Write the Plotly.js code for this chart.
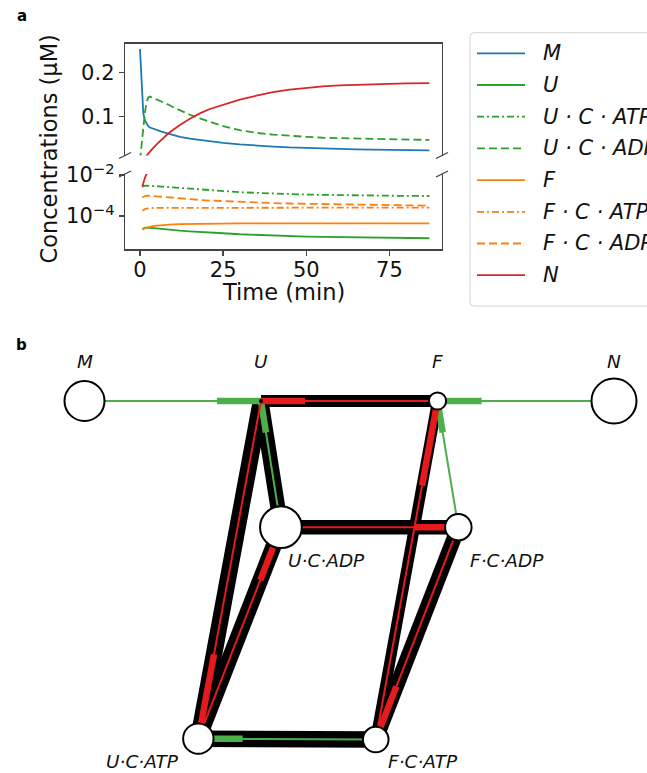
<!DOCTYPE html>
<html><head><meta charset="utf-8">
<script src="https://cdn.plot.ly/plotly-3.0.1.min.js"></script>
<style>html,body{margin:0;padding:0;background:#fff;}#chart{width:647px;height:773px;}</style>
</head><body><div id="chart"></div>
<script>
// ---------------- Panel a data ----------------
const timeMin = [0, 0.35, 0.7, 1, 1.5, 2, 2.5, 3, 4, 5, 6.5, 8.5, 10, 12, 15, 18, 21, 25, 30, 35, 40, 45, 50, 55, 60, 65, 70, 75, 80, 87];
const conc_M = [0.253, 0.19, 0.135, 0.108, 0.091, 0.083, 0.078, 0.075, 0.072, 0.069, 0.066, 0.0615, 0.058, 0.054, 0.050, 0.047, 0.044, 0.0405, 0.037, 0.034, 0.032, 0.030, 0.0285, 0.0275, 0.0265, 0.0255, 0.025, 0.0245, 0.024, 0.0235];
const conc_U = [0, 0, 2.25e-5, 2.5e-5, 2.7e-5, 2.75e-5, 2.75e-5, 2.7e-5, 2.6e-5, 2.5e-5, 2.35e-5, 2.2e-5, 2.1e-5, 1.95e-5, 1.8e-5, 1.65e-5, 1.55e-5, 1.45e-5, 1.3e-5, 1.2e-5, 1.12e-5, 1.05e-5, 1.0e-5, 0.96e-5, 0.93e-5, 0.9e-5, 0.88e-5, 0.86e-5, 0.85e-5, 0.83e-5];
const conc_UCATP = [0, 0, 0.0027, 0.0029, 0.003, 0.003, 0.003, 0.00298, 0.00293, 0.00285, 0.00275, 0.0026, 0.00245, 0.0023, 0.0021, 0.0019, 0.00175, 0.00158, 0.00145, 0.00135, 0.00125, 0.00117, 0.00112, 0.00108, 0.00104, 0.00101, 0.00099, 0.00097, 0.00096, 0.00095];
const conc_UCADP = [0, 0.025, 0.055, 0.078, 0.11, 0.133, 0.143, 0.145, 0.142, 0.139, 0.134, 0.127, 0.121, 0.114, 0.104, 0.096, 0.089, 0.078, 0.069, 0.063, 0.059, 0.056, 0.054, 0.052, 0.051, 0.050, 0.049, 0.048, 0.0475, 0.047];
const conc_F = [0, 0, 2.25e-5, 2.4e-5, 2.55e-5, 2.7e-5, 2.85e-5, 2.95e-5, 3.2e-5, 3.4e-5, 3.6e-5, 3.8e-5, 3.95e-5, 4.05e-5, 4.15e-5, 4.22e-5, 4.28e-5, 4.33e-5, 4.36e-5, 4.38e-5, 4.39e-5, 4.4e-5, 4.4e-5, 4.4e-5, 4.4e-5, 4.4e-5, 4.4e-5, 4.4e-5, 4.4e-5, 4.4e-5];
const conc_FCATP = [0, 0, 0.00018, 0.0002, 0.00022, 0.00023, 0.00024, 0.00024, 0.00025, 0.00025, 0.00025, 0.00025, 0.00025, 0.00025, 0.00025, 0.00025, 0.00025, 0.00025, 0.00025, 0.00025, 0.000252, 0.000254, 0.000255, 0.000256, 0.000257, 0.000258, 0.000259, 0.00026, 0.00026, 0.00026];
const conc_FCADP = [0, 0, 0.0008, 0.00088, 0.00095, 0.00098, 0.00099, 0.00098, 0.00095, 0.00092, 0.00087, 0.00081, 0.00077, 0.00072, 0.00066, 0.00061, 0.00057, 0.00053, 0.00049, 0.00046, 0.00043, 0.00041, 0.0004, 0.00038, 0.00037, 0.00036, 0.00035, 0.00034, 0.00033, 0.00032];
const conc_N = [0, 0, 0.0027, 0.0045, 0.0075, 0.011, 0.016, 0.021, 0.029, 0.037, 0.048, 0.0615, 0.070, 0.081, 0.095, 0.107, 0.117, 0.127, 0.138, 0.147, 0.155, 0.161, 0.165, 0.168, 0.1705, 0.172, 0.1735, 0.1745, 0.175, 0.1755];

const seriesKeys  = ['M', 'U', 'UCATP', 'UCADP', 'F', 'FCATP', 'FCADP', 'N'];
const seriesNames = ['M', 'U', 'U·C·ATP', 'U·C·ADP', 'F', 'F·C·ATP', 'F·C·ADP', 'N'];
const seriesData  = [conc_M, conc_U, conc_UCATP, conc_UCADP, conc_F, conc_FCATP, conc_FCADP, conc_N];
const xTickVals = [0, 25, 50, 75];
const yLinTicks = [0.1, 0.2];
const yLogTicks = [1e-4, 1e-2];
const yLogTickText = ['10<sup>−4</sup>', '10<sup>−2</sup>'];

// ---------------- Panel b data ----------------
const nodeKeys   = ['M', 'U', 'F', 'N', 'UCADP', 'FCADP', 'UCATP', 'FCATP'];
const nodeLabels = ['M', 'U', 'F', 'N', 'U·C·ADP', 'F·C·ADP', 'U·C·ATP', 'F·C·ATP'];
const nodeX = [0, 1, 2, 3, 1.113, 2.118, 0.645, 1.65];
const nodeY = [0, 0, 0, 0, -0.715, -0.715, -1.913, -1.918];
// black edges: from, to, weight
const edgeFrom   = ['U', 'U', 'U', 'UCADP', 'UCADP', 'F', 'FCADP', 'UCATP'];
const edgeTo     = ['F', 'UCADP', 'UCATP', 'UCATP', 'FCADP', 'FCATP', 'FCATP', 'FCATP'];
const edgeWeight = [12, 15, 16.5, 16, 14.5, 11, 15, 16.5];
// flux arrows: source -> target, kind
const fluxFrom = ['M', 'N', 'UCADP', 'FCADP', 'FCATP', 'F', 'UCADP', 'FCATP', 'U', 'UCATP', 'FCADP'];
const fluxTo   = ['U', 'F', 'U', 'F', 'UCATP', 'U', 'FCADP', 'F', 'UCATP', 'UCADP', 'FCATP'];
const fluxKind = ['g', 'g', 'g', 'g', 'g', 'r', 'r', 'r', 'r', 'r', 'r'];

// ---------------- styles ----------------
const W = 647, H = 773;
const px = v => v / W, py = v => 1 - v / H;
const colors = ['#1f77b4', '#2ca02c', '#2ca02c', '#2ca02c', '#ff7f0e', '#ff7f0e', '#ff7f0e', '#d62728'];
const dashMap = {solid: 'solid', dash: '8px,4px', dashdot: '7px,3px,2px,3px'};
const dashes = ['solid', 'solid', 'dashdot', 'dash', 'solid', 'dashdot', 'dash', 'solid'];
const fluxColor = {g: '#4daf4a', r: '#e41a1c'};
const FONT = 'DejaVu Sans, Liberation Sans, sans-serif';
const axisCol = '#444';
const TXT = '#111';

const traces = [];
seriesData.forEach((vals, i) => {
  const line = {color: colors[i], width: 1.8, dash: dashMap[dashes[i]]};
  traces.push({type: 'scatter', mode: 'lines', x: timeMin, y: vals, xaxis: 'x2', yaxis: 'y', line, hoverinfo: 'skip'});
  traces.push({type: 'scatter', mode: 'lines', x: timeMin, y: vals.map(v => v > 0 ? v : null), xaxis: 'x', yaxis: 'y2', line, hoverinfo: 'skip', connectgaps: false});
});

// network
const idx = k => nodeKeys.indexOf(k);
edgeFrom.forEach((f, i) => {
  const a = idx(f), b = idx(edgeTo[i]);
  traces.push({type: 'scatter', mode: 'lines', x: [nodeX[a], nodeX[b]], y: [nodeY[a], nodeY[b]], xaxis: 'x3', yaxis: 'y3',
    line: {color: '#000', width: edgeWeight[i]}, hoverinfo: 'skip'});
});
const headFrac = 0.25;
fluxFrom.forEach((f, i) => {
  const s = idx(f), t = idx(fluxTo[i]);
  const c = fluxColor[fluxKind[i]];
  traces.push({type: 'scatter', mode: 'lines', x: [nodeX[s], nodeX[t]], y: [nodeY[s], nodeY[t]], xaxis: 'x3', yaxis: 'y3',
    line: {color: c, width: 2}, hoverinfo: 'skip'});
  const hx = nodeX[t] + headFrac * (nodeX[s] - nodeX[t]);
  const hy = nodeY[t] + headFrac * (nodeY[s] - nodeY[t]);
  traces.push({type: 'scatter', mode: 'lines', x: [nodeX[t], hx], y: [nodeY[t], hy], xaxis: 'x3', yaxis: 'y3',
    line: {color: c, width: 6.5}, hoverinfo: 'skip'});
});
// node size from final concentration (area ~ log concentration)
const finalConc = nodeKeys.map(k => { const a = seriesData[seriesKeys.indexOf(k)]; return a[a.length - 1]; });
const nodeDiam = finalConc.map(c => Math.sqrt(Math.max(511 * (Math.log10(c) + 5.08), 16)));
traces.push({type: 'scatter', mode: 'markers', x: nodeX, y: nodeY, xaxis: 'x3', yaxis: 'y3',
  marker: {size: nodeDiam.map(d => d - 2), color: '#fff', opacity: 1, line: {color: '#000', width: 2}}, hoverinfo: 'skip'});

// ---------------- layout ----------------
const xL = 125, xR = 442, upTop = 43.7, upBot = 155.5, loTop = 174, loBot = 249.3;
const common = {showgrid: false, zeroline: false, linecolor: axisCol, linewidth: 1.3, tickcolor: axisCol, tickwidth: 1.3, ticklen: 5,
  tickfont: {family: FONT, size: 21, color: TXT}};
const layout = {
  width: W, height: H, margin: {l: 0, r: 0, t: 0, b: 0},
  paper_bgcolor: '#fff', plot_bgcolor: 'rgba(0,0,0,0)', showlegend: false,
  font: {family: FONT, size: 21, color: TXT},
  xaxis: Object.assign({}, common, {domain: [px(xL), px(xR)], range: [-4.5, 90.8], anchor: 'y2', showline: true, ticks: 'outside',
    tickvals: xTickVals, ticktext: xTickVals.map(String), ticklabelstandoff: -4}),
  xaxis2: Object.assign({}, common, {domain: [px(xL), px(xR)], range: [-4.5, 90.8], anchor: 'y', side: 'top', showline: true, ticks: '', showticklabels: false}),
  yaxis: Object.assign({}, common, {domain: [py(upBot), py(upTop)], range: [0.0118, 0.2647], anchor: 'x2', showline: true, mirror: true, ticks: 'outside',
    tickvals: yLinTicks, ticktext: yLinTicks.map(v => v.toFixed(1))}),
  yaxis2: Object.assign({}, common, {domain: [py(loBot), py(loTop)], type: 'log', range: [-5.62, -1.95], anchor: 'x', showline: true, mirror: true, ticks: 'outside',
    tickvals: yLogTicks, ticktext: yLogTickText}),
  xaxis3: {domain: [0, 1], range: [-84.5 / 176.5, (W - 84.5) / 176.5], anchor: 'y3', visible: false},
  yaxis3: {domain: [0, py(330)], range: [-(H - 401) / 176.5, (401 - 330) / 176.5], anchor: 'x3', visible: false},
  shapes: [], annotations: []
};

// broken-axis marks
[[xL, upBot], [xR, upBot], [xL, loTop], [xR, loTop]].forEach(([cx, cy]) => {
  layout.shapes.push({type: 'line', xref: 'paper', yref: 'paper', x0: px(cx - 6), y0: py(cy + 3), x1: px(cx + 6), y1: py(cy - 3),
    line: {color: axisCol, width: 1.3}});
});

// legend (manual, matplotlib style)
const lgX0 = 470, lgY0 = 32.7, lgY1 = 306, lgX1 = 665, rr = 4;
layout.shapes.push({type: 'path', xref: 'paper', yref: 'paper', layer: 'below',
  path: `M ${px(lgX0 + rr)},${py(lgY0)} L ${px(lgX1)},${py(lgY0)} L ${px(lgX1)},${py(lgY1)} L ${px(lgX0 + rr)},${py(lgY1)} ` +
        `Q ${px(lgX0)},${py(lgY1)} ${px(lgX0)},${py(lgY1 - rr)} L ${px(lgX0)},${py(lgY0 + rr)} Q ${px(lgX0)},${py(lgY0)} ${px(lgX0 + rr)},${py(lgY0)} Z`,
  line: {color: '#d4d4d4', width: 1}, fillcolor: '#fff'});
const rowY0 = 53.3, rowStep = 31.7;
seriesNames.forEach((name, i) => {
  const yy = rowY0 + i * rowStep;
  layout.shapes.push({type: 'line', xref: 'paper', yref: 'paper', x0: px(477), x1: px(525), y0: py(yy), y1: py(yy),
    line: {color: colors[i], width: 1.8, dash: dashMap[dashes[i]]}});
  layout.annotations.push({xref: 'paper', yref: 'paper', x: px(541), y: py(yy), xanchor: 'left', yanchor: 'middle', showarrow: false,
    text: '<i>' + name.split('·').join(' · ') + '</i>', font: {family: FONT, size: 21, color: TXT}});
});

// axis titles & panel letters
layout.annotations.push({xref: 'paper', yref: 'paper', x: px(48.5), y: py(149), textangle: -90, showarrow: false,
  xanchor: 'center', yanchor: 'middle', text: 'Concentrations (μM)', font: {family: FONT, size: 22.5, color: TXT}});
layout.annotations.push({xref: 'paper', yref: 'paper', x: px((xL + xR) / 2), y: py(292), showarrow: false,
  xanchor: 'center', yanchor: 'middle', text: 'Time (min)', font: {family: FONT, size: 22.5, color: TXT}});
layout.annotations.push({xref: 'paper', yref: 'paper', x: px(21.5), y: py(16), showarrow: false, xanchor: 'center', yanchor: 'middle',
  text: '<b>a</b>', font: {family: FONT, size: 15, color: '#000'}});
layout.annotations.push({xref: 'paper', yref: 'paper', x: px(21.5), y: py(345), showarrow: false, xanchor: 'center', yanchor: 'middle',
  text: '<b>b</b>', font: {family: FONT, size: 15, color: '#000'}});

// node labels (offsets in px relative to node centre)
const labelOff = {M: [0, 40, 'center'], U: [0, 40, 'center'], F: [0, 40, 'center'], N: [0, 40, 'center'],
  UCADP: [5, -33, 'left'], FCADP: [9.5, -33.5, 'left'], UCATP: [-17, -23, 'right'], FCATP: [10, -22, 'left']};
nodeKeys.forEach((k, i) => {
  const o = labelOff[k];
  layout.annotations.push({xref: 'x3', yref: 'y3', x: nodeX[i], y: nodeY[i], xshift: o[0], yshift: o[1], xanchor: o[2], yanchor: 'middle',
    showarrow: false, text: '<i>' + nodeLabels[i] + '</i>', font: {family: FONT, size: 18.5, color: TXT}});
});

Plotly.newPlot('chart', traces, layout, {staticPlot: true, displayModeBar: false});
</script></body></html>
